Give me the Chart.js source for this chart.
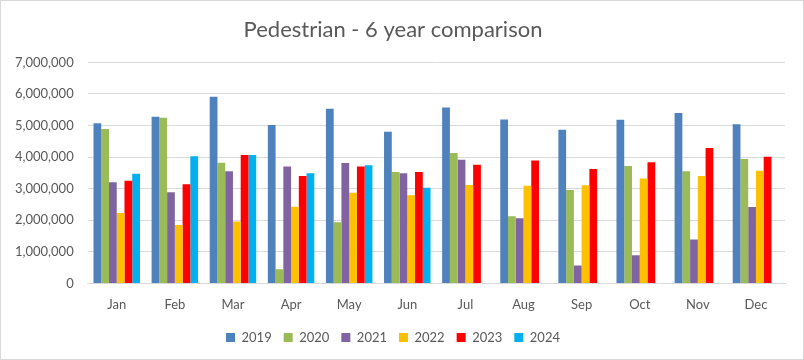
<!DOCTYPE html>
<html>
<head>
<meta charset="utf-8">
<script src="https://cdn.jsdelivr.net/npm/chart.js@4/dist/chart.umd.min.js"></script>
<style>
  html, body { margin: 0; padding: 0; background: #fff; }
  #wrap { position: relative; width: 802px; height: 358px; border: 1px solid #D9D9D9; }
</style>
</head>
<body>
<div id="wrap"><canvas id="pedChart"></canvas></div>
<script>
// Data
const months = ['Jan', 'Feb', 'Mar', 'Apr', 'May', 'Jun', 'Jul', 'Aug', 'Sep', 'Oct', 'Nov', 'Dec'];
const years = ['2019', '2020', '2021', '2022', '2023', '2024'];
const v2019 = [5070000, 5280000, 5910000, 5020000, 5530000, 4800000, 5570000, 5190000, 4870000, 5180000, 5400000, 5040000];
const v2020 = [4890000, 5250000, 3820000, 450000, 1940000, 3530000, 4130000, 2130000, 2960000, 3720000, 3550000, 3940000];
const v2021 = [3200000, 2890000, 3550000, 3700000, 3810000, 3490000, 3920000, 2060000, 570000, 890000, 1390000, 2420000];
const v2022 = [2230000, 1850000, 1960000, 2430000, 2870000, 2790000, 3120000, 3090000, 3110000, 3320000, 3400000, 3570000];
const v2023 = [3250000, 3140000, 4070000, 3400000, 3700000, 3530000, 3760000, 3890000, 3620000, 3840000, 4290000, 4010000];
const v2024 = [3470000, 4030000, 4070000, 3490000, 3740000, 3030000, null, null, null, null, null, null];
const yearColors = ['#4F81BD', '#9BBB59', '#8064A2', '#FFC000', '#FF0000', '#00B0F0'];

document.addEventListener("DOMContentLoaded", function () {
    Chart.defaults.font.family = "Lato, 'Open Sans', sans-serif";
    Chart.defaults.color = '#595959';

    const series = [v2019, v2020, v2021, v2022, v2023, v2024];

    new Chart(document.getElementById('pedChart').getContext('2d'), {
        type: 'bar',
        data: {
            labels: months,
            datasets: series.map((vals, i) => ({
                label: years[i],
                data: vals,
                backgroundColor: yearColors[i],
                borderWidth: 0,
                barPercentage: 1.0,
                categoryPercentage: 0.8
            }))
        },
        options: {
            responsive: true,
            maintainAspectRatio: false,
            animation: false,
            layout: { padding: { left: 0, right: 18, top: 8, bottom: 5 } },
            plugins: {
                title: {
                    display: true,
                    text: 'Pedestrian - 6 year comparison',
                    color: '#595959',
                    font: { size: 22, weight: 'normal' },
                    padding: { top: 8, bottom: 19 }
                },
                legend: {
                    position: 'bottom',
                    labels: { boxWidth: 9, boxHeight: 9, padding: 12, font: { size: 13 }, color: '#595959' }
                },
                tooltip: { enabled: false }
            },
            scales: {
                x: {
                    grid: { display: false },
                    border: { color: '#D9D9D9' },
                    ticks: { font: { size: 13 }, color: '#595959', padding: 6 }
                },
                y: {
                    min: 0,
                    max: 7000000,
                    grid: { color: '#D9D9D9', drawTicks: false },
                    border: { display: false },
                    ticks: {
                        stepSize: 1000000,
                        padding: 14,
                        font: { size: 13 },
                        color: '#595959',
                        callback: (v) => v.toLocaleString('en-US')
                    }
                }
            }
        }
    });
});
</script>
</body>
</html>
